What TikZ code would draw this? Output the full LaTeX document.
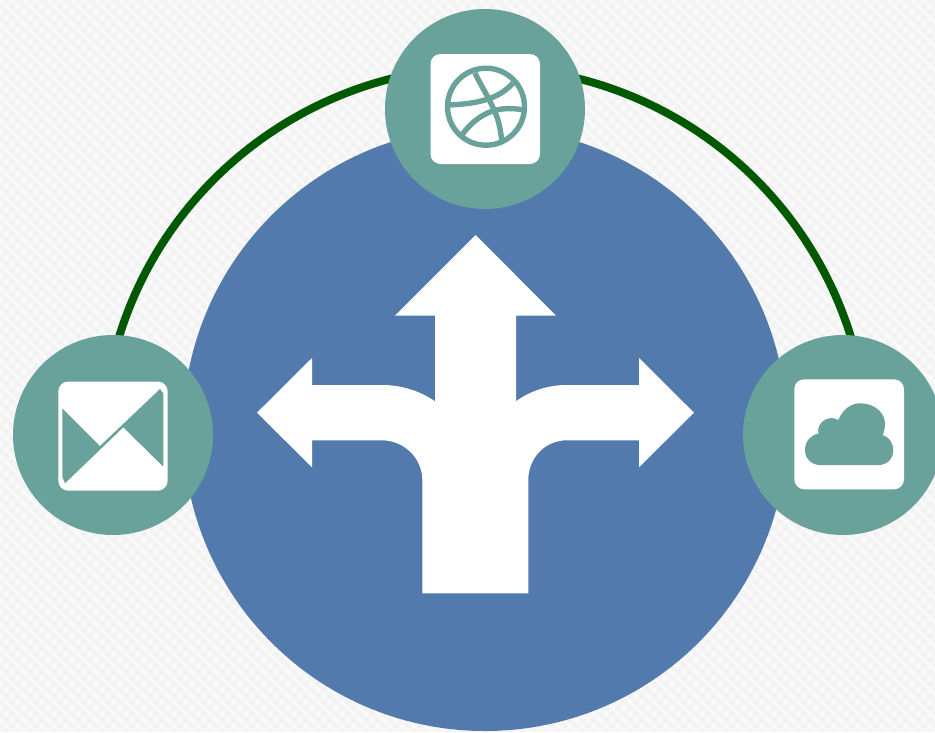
\documentclass[tikz,border=0pt]{standalone}
\definecolor{paper}{HTML}{F2F2F2}
\definecolor{blueC}{HTML}{527AAD}
\definecolor{teal}{HTML}{69A29A}
\definecolor{arcgreen}{HTML}{005800}
\tikzset{
  hub/.style={circle,fill=blueC,draw=none,minimum size=604pt,inner sep=0pt},
  badge/.style={circle,fill=teal,draw=none,minimum size=200pt,inner sep=0pt},
  tile/.style={fill=white,draw=none,rounded corners=10pt},
  ink/.style={fill=teal,draw=none},
  inkline/.style={draw=teal,line width=5.4pt,fill=none},
  weave/.style={white,line width=3pt,opacity=0.55},
}
\begin{document}
\begin{tikzpicture}[x=1pt,y=-1pt]
\useasboundingbox (0,0) rectangle (935,732);
\fill[paper] (0,0) rectangle (935,732);
% paper texture
\begin{scope}
\clip (0,0) rectangle (935,732);
\foreach \k in {-720,-708,...,936} {
  \draw[weave] (\k,0) -- (\k+732,732);
}
\foreach \k in {0,12,...,1668} {
  \draw[weave,opacity=0.35] (\k,0) -- (\k-732,732);
}
\end{scope}
% arc
\coordinate (arcL) at (115,350.9);
\draw[arcgreen,line width=8pt] (arcL) arc[start angle=165,end angle=15,radius=383pt];
% hub
\node[hub] (hub) at (485,429) {};
% arrows
\fill[white] (475.7,235) -- (556,315.7) -- (516,315.7) -- (516,401.3)
  .. controls (530,391) and (548,385) .. (566.7,385) -- (639,385) -- (639,358) -- (694,412.7) -- (639,467.3) -- (639,440.3) -- (566.7,440.3)
  .. controls (545,440.3) and (528.3,458) .. (528.3,480) -- (528.3,593.3) -- (422.3,593.3) -- (422.3,480)
  .. controls (422.3,458) and (404,440.3) .. (381.7,440.3) -- (312,440.3) -- (312,467.3) -- (257,412.7) -- (312,358) -- (312,385) -- (381.7,385)
  .. controls (402,385) and (420,391) .. (435,401.3) -- (435,315.7) -- (395,315.7) -- cycle;
% badges
\node[badge] (top) at (485,109) {};
\node[badge] (left) at (113,435) {};
\node[badge] (right) at (843,435) {};
% ball icon
\fill[tile] (430.5,54) rectangle (540,164);
\draw[inkline] (486,106.7) circle (38.5pt);
\draw[inkline] (475,73) .. controls (482,88) and (491,100) .. (498,120) .. controls (500,127) and (501,134) .. (502,142);
\draw[inkline] (448,105) .. controls (475,104) and (498,100) .. (513,83);
\draw[inkline] (461,136) .. controls (478,113) and (497,105) .. (524,110);
% mail icon
\fill[tile] (58.3,381.5) rectangle (167.7,490.7);
\fill[ink] (62.3,408.3) -- (100,446) -- (160,389) -- (163.3,393.3) -- (163.3,466.7) -- (123.3,427.3) -- (65,483.3) -- (62.3,476.7) -- cycle;
% cloud icon
\fill[tile] (794.3,379.3) rectangle (904,489.3);
\fill[ink] (820,465) .. controls (811,465) and (805,458) .. (805,450) .. controls (805,441) and (811,435) .. (818.5,433.5)
  .. controls (816.5,425) and (824,418) .. (832,418) .. controls (834,418) and (836.5,419) .. (838.3,420)
  .. controls (843,409) and (851,403.3) .. (860,403.3) .. controls (875,403.3) and (885,413) .. (885,424)
  .. controls (885,428) and (884,432) .. (882.7,435)
  .. controls (889,437) and (893.3,443) .. (893.3,450) .. controls (893.3,459) and (887,465) .. (878,465) -- cycle;
\end{tikzpicture}
\end{document}
